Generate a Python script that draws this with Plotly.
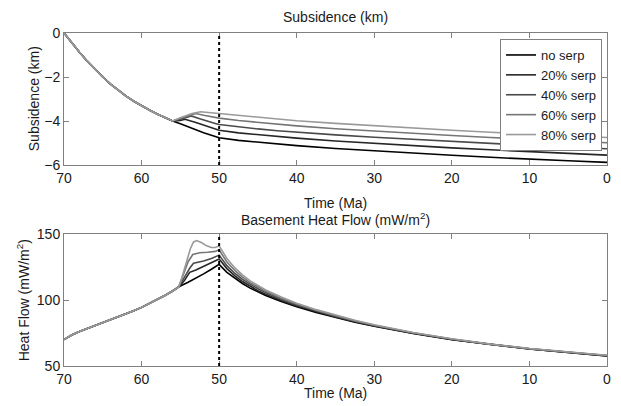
import plotly.graph_objects as go

# ---------------- data ----------------
SERIES = ["no serp", "20% serp", "40% serp", "60% serp", "80% serp"]
COLORS = ["#000000", "#262626", "#4a4a4a", "#767676", "#9a9a9a"]

# Subsidence (km) -- common part (before branching)
SUB_T_COMMON = [70, 69, 68, 67, 66, 65, 64, 63, 62, 61, 60, 59, 58, 57, 56]
SUB_V_COMMON = [0.0, -0.46, -0.88, -1.28, -1.65, -2.0, -2.32, -2.61, -2.87, -3.1, -3.31, -3.5, -3.68, -3.85, -4.0]

# branch segments (56 -> 50 Ma)
SUB_T_BRANCH = [
    [55, 54, 53, 52, 51],
    [55, 54.4, 53, 52, 51],
    [55, 53.6, 52.5, 51.5, 50.5],
    [55, 53.0, 52, 51],
    [55, 53.5, 52.4, 51.5, 50.5],
]
SUB_V_BRANCH = [
    [-4.13, -4.27, -4.40, -4.53, -4.65],
    [-3.98, -3.92, -4.07, -4.19, -4.31],
    [-3.92, -3.77, -3.9, -4.02, -4.11],
    [-3.88, -3.66, -3.74, -3.81],
    [-3.85, -3.66, -3.58, -3.61, -3.64],
]

# after 50 Ma
SUB_T_POST = [50, 47.5, 45, 42.5, 40, 35, 30, 25, 20, 15, 10, 5, 0]
SUB_V_POST = [
    [-4.76, -4.88, -4.97, -5.05, -5.12, -5.25, -5.36, -5.46, -5.56, -5.65, -5.74, -5.81, -5.88],
    [-4.42, -4.54, -4.63, -4.71, -4.78, -4.91, -5.02, -5.12, -5.22, -5.31, -5.40, -5.48, -5.55],
    [-4.16, -4.27, -4.36, -4.44, -4.51, -4.63, -4.74, -4.84, -4.94, -5.03, -5.11, -5.19, -5.26],
    [-3.87, -3.98, -4.07, -4.15, -4.22, -4.35, -4.46, -4.56, -4.66, -4.75, -4.84, -4.92, -4.99],
    [-3.65, -3.75, -3.84, -3.92, -3.99, -4.11, -4.22, -4.32, -4.42, -4.51, -4.60, -4.68, -4.75],
]

# Heat flow (mW/m^2) -- common part
HF_T_COMMON = [70, 69, 68, 67, 66, 65, 64, 63, 62, 61, 60, 59, 58, 57, 56, 55.2]
HF_V_COMMON = [70, 73.5, 76.2, 78.4, 80.5, 82.6, 84.7, 86.9, 89.3, 91.8, 94.4, 97.2, 100.2, 103.4, 106.8, 110]

HF_T_BRANCH = [
    [54, 53, 52, 51],
    [54.5, 53.8, 53, 52, 51],
    [54.5, 53.8, 53.3, 52, 51],
    [54.5, 54, 53.4, 52.5, 51.5, 50.5],
    [54.8, 54.2, 53.7, 53.3, 52.9, 52.3, 51.6, 51, 50.5],
]
HF_V_BRANCH = [
    [113.5, 116.5, 119.8, 123.3],
    [114.5, 121, 122.8, 125.5, 128.2],
    [117, 124, 127.8, 129.5, 131.5],
    [121, 129, 134.5, 135.8, 136.2, 136.8],
    [117, 128, 139, 144, 145, 143.5, 141, 139.8, 139.8],
]

HF_T_POST = [50, 49, 48, 47, 46, 45, 44, 42, 40, 37.5, 35, 32.5, 30, 25, 20, 15, 10, 5, 0]
HF_V_POST = [
    [127, 121, 116.5, 112.5, 109, 106, 103.4, 98.8, 94.8, 90.5, 86.6, 83.2, 80.1, 74.6, 70, 66.2, 62.9, 60.2, 57.6],
    [131, 123.8, 118.5, 114, 110.3, 107.1, 104.4, 99.6, 95.5, 91.1, 87.1, 83.6, 80.4, 74.8, 70.2, 66.3, 63.0, 60.3, 57.7],
    [134, 126, 120.3, 115.6, 111.8, 108.5, 105.6, 100.6, 96.3, 91.7, 87.6, 84.0, 80.7, 75.0, 70.3, 66.4, 63.1, 60.4, 57.9],
    [138, 128.8, 122.5, 117.3, 113.2, 109.7, 106.6, 101.4, 96.9, 92.2, 88.0, 84.3, 80.9, 75.2, 70.5, 66.5, 63.2, 60.5, 58.0],
    [141, 131.5, 124.5, 119, 114.5, 110.8, 107.6, 102.2, 97.6, 92.7, 88.4, 84.6, 81.2, 75.4, 70.6, 66.6, 63.3, 60.6, 58.2],
]

X_TICKS = [70, 60, 50, 40, 30, 20, 10, 0]
SUB_TICKS = [0, -2, -4, -6]
HF_TICKS = [50, 100, 150]
MARK_TIME = 50

# ---------------- figure ----------------
W, H = 621, 406
ML, MR, MT, MB = 64, 10, 33, 40
PH = H - MT - MB


def py(ypx):
    return (H - MB - ypx) / PH


FONT = "Liberation Sans, Arial, Helvetica, sans-serif"
fig = go.Figure()

for i, name in enumerate(SERIES):
    t = SUB_T_COMMON + SUB_T_BRANCH[i] + SUB_T_POST
    v = SUB_V_COMMON + SUB_V_BRANCH[i] + SUB_V_POST[i]
    fig.add_trace(go.Scatter(x=t, y=v, mode="lines", name=name,
                             line=dict(color=COLORS[i], width=1.6),
                             xaxis="x", yaxis="y", showlegend=True))

for i, name in enumerate(SERIES):
    t = HF_T_COMMON + HF_T_BRANCH[i] + HF_T_POST
    v = HF_V_COMMON + HF_V_BRANCH[i] + HF_V_POST[i]
    fig.add_trace(go.Scatter(x=t, y=v, mode="lines", name=name,
                             line=dict(color=COLORS[i], width=1.6),
                             xaxis="x2", yaxis="y2", showlegend=False))

axis_common = dict(showline=True, linecolor="#808080", linewidth=1, mirror="ticks",
                   ticks="inside", ticklen=5, tickcolor="#808080", showgrid=False,
                   zeroline=False, tickfont=dict(size=14, color="#1a1a1a", family=FONT))

top_dom = [py(165), py(33)]
bot_dom = [py(366), py(234)]

fig.update_layout(
    width=W, height=H,
    margin=dict(l=ML, r=MR, t=MT, b=MB),
    paper_bgcolor="white", plot_bgcolor="white",
    font=dict(family=FONT, size=14, color="#1a1a1a"),
    xaxis=dict(range=[70, 0], tickvals=X_TICKS, domain=[0, 1], anchor="y", **axis_common),
    yaxis=dict(range=[-6, 0], tickvals=SUB_TICKS, domain=top_dom, anchor="x", **axis_common),
    xaxis2=dict(range=[70, 0], tickvals=X_TICKS, domain=[0, 1], anchor="y2", **axis_common),
    yaxis2=dict(range=[50, 150], tickvals=HF_TICKS, domain=bot_dom, anchor="x2", **axis_common),
    legend=dict(x=1 - (611 - 606) / (W - ML - MR), xanchor="right", y=py(39), yanchor="top",
                bgcolor="white", bordercolor="#808080", borderwidth=1,
                font=dict(size=13, family=FONT, color="#1a1a1a"),
                tracegroupgap=0, itemwidth=30),
    showlegend=True,
)

for xr, yr in (("x", "y"), ("x2", "y2")):
    fig.add_shape(type="line", xref=xr, yref=f"{yr} domain", x0=MARK_TIME, x1=MARK_TIME,
                  y0=0, y1=1, line=dict(color="black", width=2, dash="dot"))

ann = [
    ("Subsidence (km)", (ML + W - MR) / 2, 17, 0),
    ("Time (Ma)", (ML + W - MR) / 2, 203, 0),
    ("Basement Heat Flow (mW/m<sup>2</sup>)", (ML + W - MR) / 2, 219, 0),
    ("Time (Ma)", (ML + W - MR) / 2, 393, 0),
    ("Subsidence (km)", 34, 99, -90),
    ("Heat Flow (mW/m<sup>2</sup>)", 23, 300, -90),
]
for text, xpx, ypx, ang in ann:
    fig.add_annotation(text=text, x=(xpx - ML) / (W - ML - MR), y=py(ypx), xref="paper", yref="paper",
                       showarrow=False, textangle=ang, xanchor="center", yanchor="middle",
                       font=dict(size=14, family=FONT, color="#1a1a1a"))

fig.write_html("out.html", config={"displayModeBar": False},
               post_script="document.body.style.margin='0';document.body.style.padding='0';")
